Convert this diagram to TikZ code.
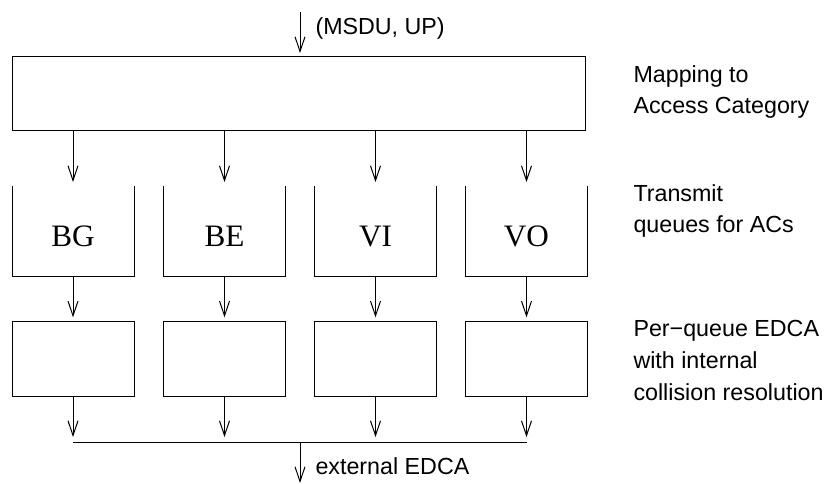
\documentclass[tikz,border=0pt]{standalone}
\usepackage{fontspec}
\setmainfont{Liberation Serif}
\setsansfont{Liberation Sans}
\usetikzlibrary{arrows.meta}
\begin{document}
\begin{tikzpicture}[x=0.75pt,y=-0.75pt,
  line width=0.75pt,
  arr/.style={-{Straight Barb[length=11pt,width=7.5pt,line width=0.75pt]}},
  lbl/.style={font=\sffamily\fontsize{17.45}{20}\selectfont,anchor=base west,inner sep=0pt},
  qlbl/.style={font=\rmfamily\fontsize{23.4}{26}\selectfont,anchor=base,inner sep=0pt},
  bigbox/.style={draw,inner sep=0pt,outer sep=0pt,minimum width=429.75pt,minimum height=55.5pt},
  qbox/.style={inner sep=0pt,outer sep=0pt,minimum width=91.5pt,minimum height=68.25pt},
  ebox/.style={draw,inner sep=0pt,outer sep=0pt,minimum width=91.5pt,minimum height=56.25pt}]
\useasboundingbox (0,0) rectangle (825,484);

% input
\coordinate (in) at (300,12);
\node[lbl] (msdu) at (315,35) {(MSDU, UP)};
\node[bigbox] (map) at (298.5,94) {};
\draw[arr,shorten >=3pt] (in) -- (in |- map.north);

% queues
\foreach \x/\n/\t in {73/1/BG,224.5/2/BE,375.5/3/VI,526.5/4/VO}{
  \node[qbox] (q\n) at (\x,231.5) {};
  \draw (q\n.north west) -- (q\n.south west) -- (q\n.south east) -- (q\n.north east);
  \node[qlbl] (ql\n) at (\x,247) {\t};
  \node[ebox] (e\n) at (\x,359.5) {};
  \coordinate (b\n) at (\x,443);
  \draw[arr,shorten >=3pt] (map.south -| q\n) -- (q\n.north);
  \draw[arr,shorten >=3.5pt] (q\n.south) -- (e\n.north);
  \draw[arr,shorten >=4.5pt] (e\n.south) -- (b\n);
}
\draw (b1) -- (b4);
\coordinate (bm) at (300,443);
\coordinate (out) at (300,483);
\draw[arr] (bm) -- (out);
\node[lbl] (ext) at (315,475) {external EDCA};

% right labels
\node[lbl] (r1) at (633,82.5) {Mapping to};
\node[lbl] (r2) at (633,113.5) {Access Category};
\node[lbl] (r3) at (633,201.5) {Transmit};
\node[lbl] (r4) at (633,232.5) {queues for ACs};
\node[lbl] (r5) at (633,337) {Per\textminus queue EDCA};
\node[lbl] (r6) at (633,368.5) {with internal};
\node[lbl] (r7) at (633,401) {collision resolution};
\end{tikzpicture}
\end{document}
